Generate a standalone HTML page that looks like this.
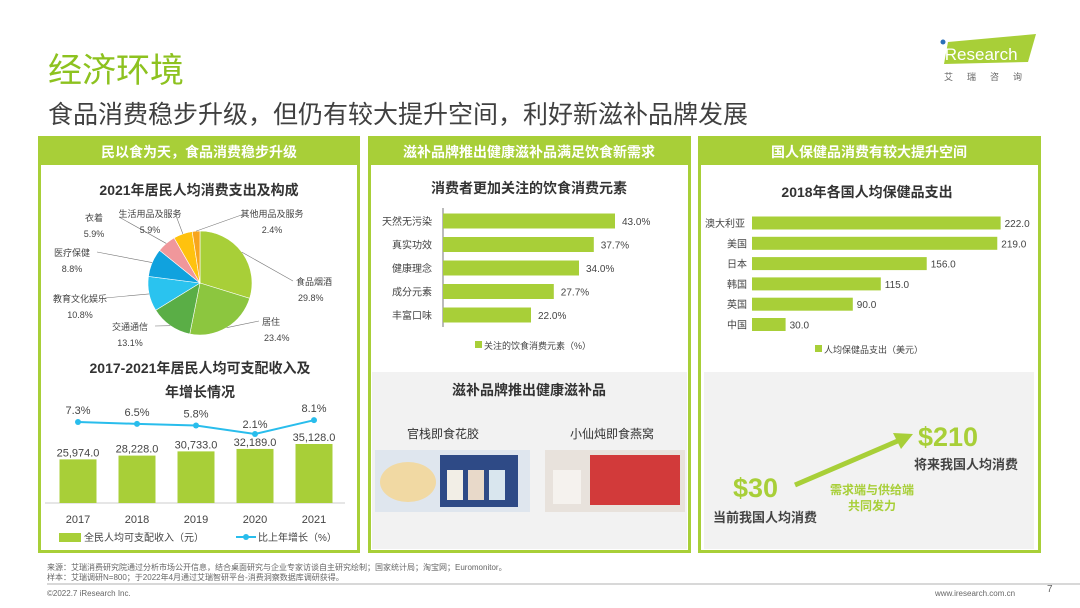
<!DOCTYPE html>
<html><head><meta charset="utf-8"><style>
body{margin:0;background:#fff;}
svg{display:block;font-family:"Liberation Sans","Noto Sans CJK SC",sans-serif;}
</style></head><body>
<svg id="s" width="1080" height="608" viewBox="0 0 1080 608" xmlns="http://www.w3.org/2000/svg">
<text x="48" y="82" font-size="34" fill="#8dc21f">经济环境</text>
<text x="48" y="123" font-size="25" fill="#404040">食品消费稳步升级，但仍有较大提升空间，利好新滋补品牌发展</text>
<g>
<polygon points="948,42 1036,34 1028,62 944,64" fill="#a8cf38"/>
<circle cx="943" cy="42" r="2.5" fill="#2a6fb8"/>
<text x="941" y="60" font-size="17" fill="#fff">iResearch</text>
<text x="944" y="80" font-size="9" fill="#666" letter-spacing="14">艾瑞咨询</text>
</g>
<!-- panels -->
<g>
<rect x="39.5" y="137.5" width="319" height="414" fill="#fff" stroke="#a8cf38" stroke-width="3"/>
<rect x="38" y="136" width="322" height="29" fill="#a8cf38"/>
<text x="199" y="157" font-size="14" font-weight="bold" fill="#fff" text-anchor="middle">民以食为天，食品消费稳步升级</text>
</g>
<g>
<rect x="369.5" y="137.5" width="320" height="414" fill="#fff" stroke="#a8cf38" stroke-width="3"/>
<rect x="368" y="136" width="323" height="29" fill="#a8cf38"/>
<text x="529" y="157" font-size="14" font-weight="bold" fill="#fff" text-anchor="middle">滋补品牌推出健康滋补品满足饮食新需求</text>
</g>
<g>
<rect x="699.5" y="137.5" width="340" height="414" fill="#fff" stroke="#a8cf38" stroke-width="3"/>
<rect x="698" y="136" width="343" height="29" fill="#a8cf38"/>
<text x="869" y="157" font-size="14" font-weight="bold" fill="#fff" text-anchor="middle">国人保健品消费有较大提升空间</text>
</g>
<text x="199" y="195" font-size="14" font-weight="bold" fill="#333" text-anchor="middle">2021年居民人均消费支出及构成</text>
<g id="pie"></g>
<text x="200" y="373" font-size="14" font-weight="bold" fill="#333" text-anchor="middle">2017-2021年居民人均可支配收入及</text>
<text x="200" y="397" font-size="14" font-weight="bold" fill="#333" text-anchor="middle">年增长情况</text>
<g id="inc"></g>
<text x="529" y="193" font-size="14" font-weight="bold" fill="#333" text-anchor="middle">消费者更加关注的饮食消费元素</text>
<g id="fac"></g>
<text x="867" y="197" font-size="14" font-weight="bold" fill="#333" text-anchor="middle">2018年各国人均保健品支出</text>
<g id="hl"></g>
<!-- middle lower -->
<g>
<rect x="372" y="372" width="315" height="177" fill="#f2f2f2"/>
<text x="529" y="395" font-size="14" font-weight="bold" fill="#333" text-anchor="middle">滋补品牌推出健康滋补品</text>
<text x="443" y="438" font-size="12" fill="#333" text-anchor="middle">官栈即食花胶</text>
<text x="612" y="438" font-size="12" fill="#333" text-anchor="middle">小仙炖即食燕窝</text>
<rect x="375" y="450" width="155" height="62" fill="#dfe6ee"/>
<ellipse cx="408" cy="482" rx="28" ry="20" fill="#f1d9a3"/>
<rect x="440" y="455" width="78" height="52" fill="#2e4a86"/>
<rect x="447" y="470" width="16" height="30" fill="#f2eee6"/><rect x="468" y="470" width="16" height="30" fill="#e8d9c9"/><rect x="489" y="470" width="16" height="30" fill="#d9e6ee"/>
<rect x="545" y="450" width="140" height="62" fill="#e8e2dc"/>
<rect x="590" y="455" width="90" height="50" fill="#d23a3a"/>
<rect x="553" y="470" width="28" height="34" fill="#f5f2ee"/>
</g>
<!-- right lower -->
<g>
<rect x="704" y="372" width="330" height="177" fill="#f2f2f2"/>
<line x1="795" y1="485" x2="900" y2="440" stroke="#a8cf38" stroke-width="5"/>
<polygon points="913,434 893,433 901,449" fill="#a8cf38"/>
<text x="918" y="446" font-size="27" font-weight="bold" fill="#a8cf38">$210</text>
<text x="966" y="469" font-size="13" font-weight="bold" fill="#444" text-anchor="middle">将来我国人均消费</text>
<text x="733" y="497" font-size="27" font-weight="bold" fill="#a8cf38">$30</text>
<text x="765" y="522" font-size="13" font-weight="bold" fill="#444" text-anchor="middle">当前我国人均消费</text>
<text x="872" y="494" font-size="12" font-weight="bold" fill="#a8cf38" text-anchor="middle">需求端与供给端</text>
<text x="872" y="510" font-size="12" font-weight="bold" fill="#a8cf38" text-anchor="middle">共同发力</text>
</g>
<!-- footer -->
<g font-size="8" fill="#666">
<text x="47" y="570">来源：艾瑞消费研究院通过分析市场公开信息，结合桌面研究与企业专家访谈自主研究绘制；国家统计局；淘宝网；Euromonitor。</text>
<text x="47" y="580">样本：艾瑞调研N=800；于2022年4月通过艾瑞智研平台-消费洞察数据库调研获得。</text>
<line x1="47" y1="584" x2="1080" y2="584" stroke="#999" stroke-width="0.8"/>
<text x="47" y="596">©2022.7 iResearch Inc.</text>
<text x="935" y="596">www.iresearch.com.cn</text>
<text x="1047" y="592" font-size="10">7</text>
</g>
</svg>
<script>
const NS="http://www.w3.org/2000/svg";
function mk(p,t,a,txt){const e=document.createElementNS(NS,t);for(const k in a)e.setAttribute(k,a[k]);if(txt!==undefined)e.textContent=txt;p.appendChild(e);return e;}
// pie data
const pieCats=["食品烟酒","居住","交通通信","教育文化娱乐","医疗保健","衣着","生活用品及服务","其他用品及服务"];
const pieVals=[29.8,23.4,13.1,10.8,8.8,5.9,5.9,2.4];
const pieColors=["#a8cf38","#8cc63f","#5aae46","#2ac3ef","#10a2de","#f0979b","#ffc20e","#f7a51d"];
const pieLabelPos=[[296,285,"start"],[262,325,"start"],[130,330,"middle"],[80,302,"middle"],[72,256,"middle"],[94,221,"middle"],[150,217,"middle"],[272,217,"middle"]];
// income data
const years=["2017","2018","2019","2020","2021"];
const income=[25974,28228,30733,32189,35128];
const growth=[7.3,6.5,5.8,2.1,8.1];
// factor data
const facCats=["天然无污染","真实功效","健康理念","成分元素","丰富口味"];
const facVals=[43.0,37.7,34.0,27.7,22.0];
// health data
const hlCats=["澳大利亚","美国","日本","韩国","英国","中国"];
const hlVals=[222.0,219.0,156.0,115.0,90.0,30.0];

// pie
(function(){const g=document.getElementById('pie');const cx=200,cy=283,r=52;
const tot=pieVals.reduce((a,b)=>a+b,0);let a0=-Math.PI/2;
pieVals.forEach((v,i)=>{const a1=a0+v/tot*2*Math.PI;
const x0=cx+r*Math.cos(a0),y0=cy+r*Math.sin(a0),x1=cx+r*Math.cos(a1),y1=cy+r*Math.sin(a1);
const p=mk(g,'path',{d:`M${cx},${cy}L${x0},${y0}A${r},${r} 0 ${a1-a0>Math.PI?1:0} 1 ${x1},${y1}Z`,fill:pieColors[i],stroke:'#fff','stroke-width':0.6});


const am=(a0+a1)/2,ex=cx+r*Math.cos(am),ey=cy+r*Math.sin(am);const L=pieLabelPos[i];
const ln=mk(g,'line',{x1:ex,y1:ey,x2:L[0]+(L[2]=='start'?-3:(ex>L[0]?25:-25)),y2:L[1]-4,stroke:'#777','stroke-width':0.6});


const t1=mk(g,'text',{x:L[0],y:L[1],'font-size':9,fill:'#444','text-anchor':L[2]},pieCats[i]);


const t2=mk(g,'text',{x:L[2]=='start'?L[0]+2:L[0],y:L[1]+16,'font-size':9,fill:'#444','text-anchor':L[2]},v.toFixed(1)+'%');


a0=a1;});})();

// income
(function(){const g=document.getElementById('inc');const base=503,k=59/35128,x0=78,dx=59,bw=37;
const gy=v=>438.8-2.3*v;
mk(g,'line',{x1:45,y1:base,x2:345,y2:base,stroke:'#bbb','stroke-width':0.8});
income.forEach((v,i)=>{const x=x0+i*dx,h=v*k;
const b=mk(g,'rect',{x:x-bw/2,y:base-h,width:bw,height:h,fill:'#a8cf38'});


const t=mk(g,'text',{x:x,y:base-h-3,'font-size':11,fill:'#444','text-anchor':'middle'},v.toLocaleString('en-US',{minimumFractionDigits:1}));


const yl=mk(g,'text',{x:x,y:523,'font-size':11,fill:'#444','text-anchor':'middle'},years[i]);

});
const pts=growth.map((v,i)=>[x0+i*dx,gy(v)]);
const pl=mk(g,'polyline',{points:pts.map(p=>p.join(',')).join(' '),fill:'none',stroke:'#29bdec','stroke-width':2});


pts.forEach((p,i)=>{const c=mk(g,'circle',{cx:p[0],cy:p[1],r:3,fill:'#29bdec'});


const t=mk(g,'text',{x:p[0],y:p[1]-(i==3?6:8),'font-size':11,fill:'#444','text-anchor':'middle'},growth[i].toFixed(1)+'%');

});
const l1=mk(g,'rect',{x:59,y:533,width:22,height:9,fill:'#a8cf38'});
mk(g,'text',{x:84,y:541,'font-size':10,fill:'#444'},'全民人均可支配收入（元）');
const l2=mk(g,'line',{x1:236,y1:537,x2:256,y2:537,stroke:'#29bdec','stroke-width':2});
mk(g,'circle',{cx:246,cy:537,r:3,fill:'#29bdec'});
mk(g,'text',{x:258,y:541,'font-size':10,fill:'#444'},'比上年增长（%）');})();

// factors
(function(){const g=document.getElementById('fac');const ax=443,k=4,y0=221,dy=23.5,bh=15;
mk(g,'line',{x1:ax,y1:208,x2:ax,y2:327,stroke:'#555','stroke-width':0.8});
facCats.forEach((c,i)=>{const y=y0+i*dy,w=facVals[i]*k;
const b=mk(g,'rect',{x:ax,y:y-bh/2,width:w,height:bh,fill:'#a8cf38'});


const l=mk(g,'text',{x:ax-11,y:y+4,'font-size':10,fill:'#444','text-anchor':'end'},c);


const t=mk(g,'text',{x:ax+w+7,y:y+4,'font-size':10,fill:'#444'},facVals[i].toFixed(1)+'%');

});
const lg=mk(g,'rect',{x:475,y:341,width:7,height:7,fill:'#a8cf38'});
mk(g,'text',{x:484,y:349,'font-size':9,fill:'#444'},'关注的饮食消费元素（%）');})();

// health
(function(){const g=document.getElementById('hl');const ax=752,k=1.12,y0=223,dy=20.3,bh=13;
hlCats.forEach((c,i)=>{const y=y0+i*dy,w=hlVals[i]*k;
const b=mk(g,'rect',{x:ax,y:y-bh/2,width:w,height:bh,fill:'#a8cf38'});


const l=mk(g,'text',{x:c.length>2?705:727,y:y+4,'font-size':10,fill:'#444'},c);


const t=mk(g,'text',{x:ax+w+4,y:y+4,'font-size':10,fill:'#444'},hlVals[i].toFixed(1));

});
const lg=mk(g,'rect',{x:815,y:345,width:7,height:7,fill:'#a8cf38'});
mk(g,'text',{x:824,y:353,'font-size':9,fill:'#444'},'人均保健品支出（美元）');})();
</script>
</body></html>
